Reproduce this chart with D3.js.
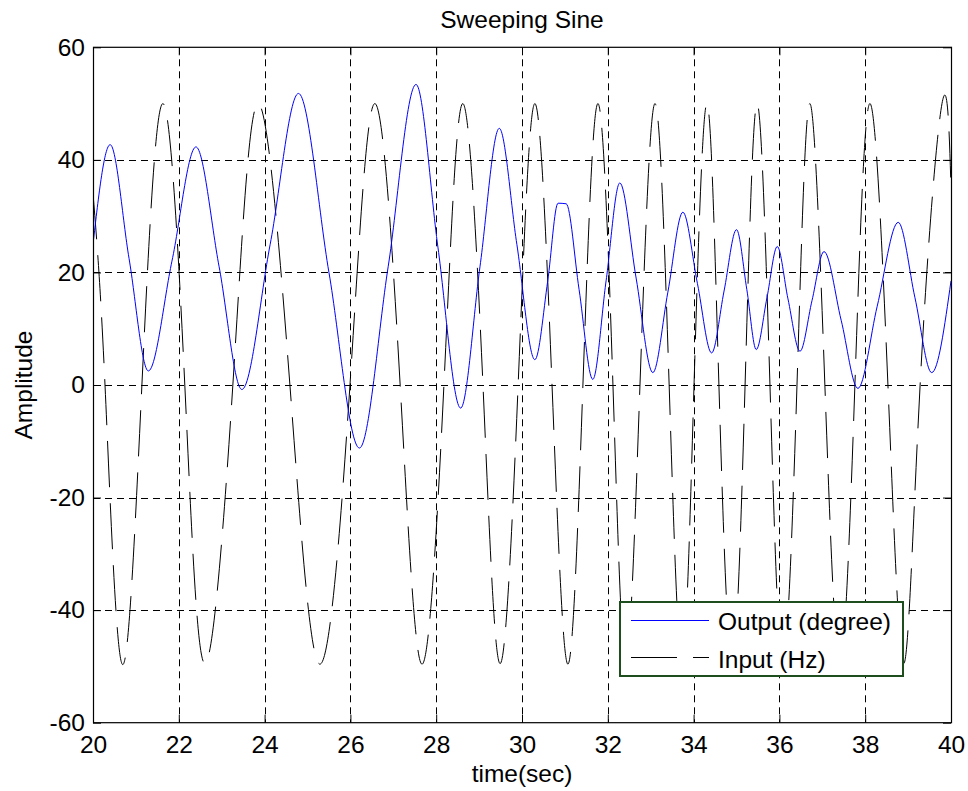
<!DOCTYPE html>
<html>
<head>
<meta charset="utf-8">
<script src="https://cdn.jsdelivr.net/npm/d3@7"></script>
<style>
  html, body { margin: 0; padding: 0; background: #ffffff; }
  svg { display: block; }
  text { font-family: "Liberation Sans", Arial, Helvetica, sans-serif; fill: #000; }
</style>
</head>
<body>
<script>
// ---------- data ----------
const title = "Sweeping Sine";
const xLabel = "time(sec)";
const yLabel = "Amplitude";
const seriesNames = ["Output (degree)", "Input (Hz)"];

const xTicks = [20, 22, 24, 26, 28, 30, 32, 34, 36, 38, 40];
const yTicks = [-60, -40, -20, 0, 20, 40, 60];

// Output (blue, solid): extremes and flank points
const outputTime = [20.00, 20.40, 20.84, 21.29, 21.84, 22.40, 22.94, 23.47, 24.13, 24.79,
  25.50, 26.21, 26.88, 27.53, 28.04, 28.57, 29.02, 29.47, 29.88, 30.30,
  30.60, 30.84, 31.03, 31.33, 31.65, 31.96, 32.28, 32.66, 33.05, 33.40,
  33.75, 34.09, 34.42, 34.71, 35.00, 35.24, 35.46, 35.71, 35.95, 36.20,
  36.48, 36.76, 37.04, 37.44, 37.83, 38.28, 38.77, 39.16, 39.55, 40.00];
const outputValue = [25.0, 42.7, 22.5, 2.5, 22.0, 42.3, 21.0, -0.8, 25.0, 51.8,
  20.0, -11.2, 21.0, 53.4, 24.5, -4.1, 21.0, 45.6, 25.0, 4.5,
  18.5, 32.3, 32.2, 17.0, 1.0, 18.5, 35.9, 19.0, 2.2, 16.5,
  30.7, 18.0, 5.7, 16.7, 27.6, 17.0, 6.3, 15.5, 24.6, 15.3,
  6.0, 15.0, 23.7, 11.5, -0.6, 14.0, 28.9, 15.5, 2.2, 18.5];

// Input (black, dashed): peaks, troughs and zero crossings
const inputTime = [20.00, 20.28, 20.68, 21.14, 21.63, 22.14, 22.61, 23.26, 23.85, 24.59,
  25.29, 25.99, 26.57, 27.16, 27.67, 28.18, 28.62, 29.09, 29.49, 29.91,
  30.30, 30.70, 31.07, 31.42, 31.77, 32.12, 32.42, 32.75, 33.10, 33.43,
  33.73, 34.01, 34.31, 34.59, 34.90, 35.20, 35.48, 35.78, 36.08, 36.41,
  36.71, 37.06, 37.41, 37.76, 38.11, 38.53, 38.90, 39.28, 39.79, 40.00];
const inputValue = [34, 0, -49.6, 0, 50, 0, -49.5, 0, 50, 0,
  -49.6, 0, 50, 0, -49.6, 0, 50, 0, -49.5, 0,
  50, 0, -49.6, 0, 50, 0, -49.5, 0, 50, 0,
  -49.5, 0, 50, 0, -49.5, 0, 50, 0, -49.5, 0,
  50, 0, -49.5, 0, 50, 0, -49.5, 0, 50, 35];

// ---------- layout ----------
const W = 968, H = 791;
const plot = { left: 93, right: 951, top: 47.3, bottom: 722.7 };
const FS = 24.5;

const svg = d3.select("body").append("svg")
  .attr("width", W).attr("height", H)
  .attr("viewBox", `0 0 ${W} ${H}`);

svg.append("rect").attr("width", W).attr("height", H).attr("fill", "#fff");

const x = d3.scaleLinear().domain([20, 40]).range([plot.left, plot.right]);
const y = d3.scaleLinear().domain([-60, 60]).range([plot.bottom, plot.top]);

const pw = plot.right - plot.left, ph = plot.bottom - plot.top;

// grid lines (dashed)
const grid = svg.append("g").attr("class", "grid");
grid.selectAll("line.v").data(xTicks.slice(1, -1)).enter().append("line")
  .attr("x1", d => Math.round(x(d)) + 0.5).attr("x2", d => Math.round(x(d)) + 0.5)
  .attr("y1", plot.top).attr("y2", plot.bottom)
  .attr("stroke", "#000").attr("stroke-width", 1).attr("stroke-dasharray", "7,5");
grid.selectAll("line.h").data(yTicks.slice(1, -1)).enter().append("line")
  .attr("y1", d => Math.round(y(d)) + 0.5).attr("y2", d => Math.round(y(d)) + 0.5)
  .attr("x1", plot.left).attr("x2", plot.right)
  .attr("stroke", "#000").attr("stroke-width", 1).attr("stroke-dasharray", "7,5");

// clip
svg.append("clipPath").attr("id", "clip").append("rect")
  .attr("x", plot.left).attr("y", plot.top).attr("width", pw).attr("height", ph);

const inputData = inputTime.map((t, i) => [t, inputValue[i]]);
const outputData = outputTime.map((t, i) => [t, outputValue[i]]);

const lineIn = d3.line().x(d => x(d[0])).y(d => y(d[1])).curve(d3.curveNatural);
const lineOut = d3.line().x(d => x(d[0])).y(d => y(d[1])).curve(d3.curveMonotoneX);

const lines = svg.append("g").attr("clip-path", "url(#clip)");
lines.append("path").datum(inputData).attr("d", lineIn)
  .attr("fill", "none").attr("stroke", "#000").attr("stroke-width", 1)
  .attr("stroke-dasharray", "46,16");
lines.append("path").datum(outputData).attr("d", lineOut)
  .attr("fill", "none").attr("stroke", "#0000ff").attr("stroke-width", 1);

// axes with inward ticks
const axisFont = g => g.selectAll("text")
  .attr("font-family", "'Liberation Sans', Arial, sans-serif")
  .attr("font-size", FS).attr("fill", "#000");

const plainFmt = d => String(d);

const xAxis = d3.axisBottom(x).tickValues(xTicks).tickSizeInner(-8).tickSizeOuter(0)
  .tickPadding(13).tickFormat(plainFmt);
const yAxis = d3.axisLeft(y).tickValues(yTicks).tickSizeInner(-8).tickSizeOuter(0)
  .tickPadding(8).tickFormat(plainFmt);

const gx = svg.append("g").attr("transform", `translate(0,${plot.bottom})`).call(xAxis);
gx.select(".domain").remove();
gx.selectAll("line").attr("stroke", "#000");
gx.call(axisFont);

const gy = svg.append("g").attr("transform", `translate(${plot.left},0)`).call(yAxis);
gy.select(".domain").remove();
gy.selectAll("line").attr("stroke", "#000");
gy.call(axisFont);

// top & right ticks (no labels)
const gxt = svg.append("g").attr("transform", `translate(0,${plot.top})`)
  .call(d3.axisTop(x).tickValues(xTicks).tickSizeInner(-8).tickSizeOuter(0).tickFormat(""));
gxt.select(".domain").remove();
const gyr = svg.append("g").attr("transform", `translate(${plot.right},0)`)
  .call(d3.axisRight(y).tickValues(yTicks).tickSizeInner(-8).tickSizeOuter(0).tickFormat(""));
gyr.select(".domain").remove();

// box
svg.append("rect")
  .attr("x", plot.left + 0.5).attr("y", plot.top)
  .attr("width", pw).attr("height", ph)
  .attr("fill", "none").attr("stroke", "#000").attr("stroke-width", 1.2);

// title & labels
svg.append("text").attr("x", (plot.left + plot.right) / 2).attr("y", 28)
  .attr("text-anchor", "middle").attr("font-size", FS).text(title);
svg.append("text").attr("x", (plot.left + plot.right) / 2).attr("y", 782)
  .attr("text-anchor", "middle").attr("font-size", FS).text(xLabel);
svg.append("text").attr("transform", `translate(32,${(plot.top + plot.bottom) / 2}) rotate(-90)`)
  .attr("text-anchor", "middle").attr("font-size", FS).text(yLabel);

// legend
const lg = svg.append("g");
lg.append("rect").attr("x", 620).attr("y", 602).attr("width", 283).attr("height", 74)
  .attr("fill", "#fff").attr("stroke", "#1e4d1e").attr("stroke-width", 2);
lg.append("line").attr("x1", 631).attr("x2", 709).attr("y1", 620.5).attr("y2", 620.5)
  .attr("stroke", "#0000ff").attr("stroke-width", 1);
lg.append("line").attr("x1", 631).attr("x2", 709).attr("y1", 657.5).attr("y2", 657.5)
  .attr("stroke", "#000").attr("stroke-width", 1).attr("stroke-dasharray", "46,16");
lg.append("text").attr("x", 718).attr("y", 630).attr("font-size", FS).text(seriesNames[0]);
lg.append("text").attr("x", 718).attr("y", 668).attr("font-size", FS).text(seriesNames[1]);
</script>
</body>
</html>
